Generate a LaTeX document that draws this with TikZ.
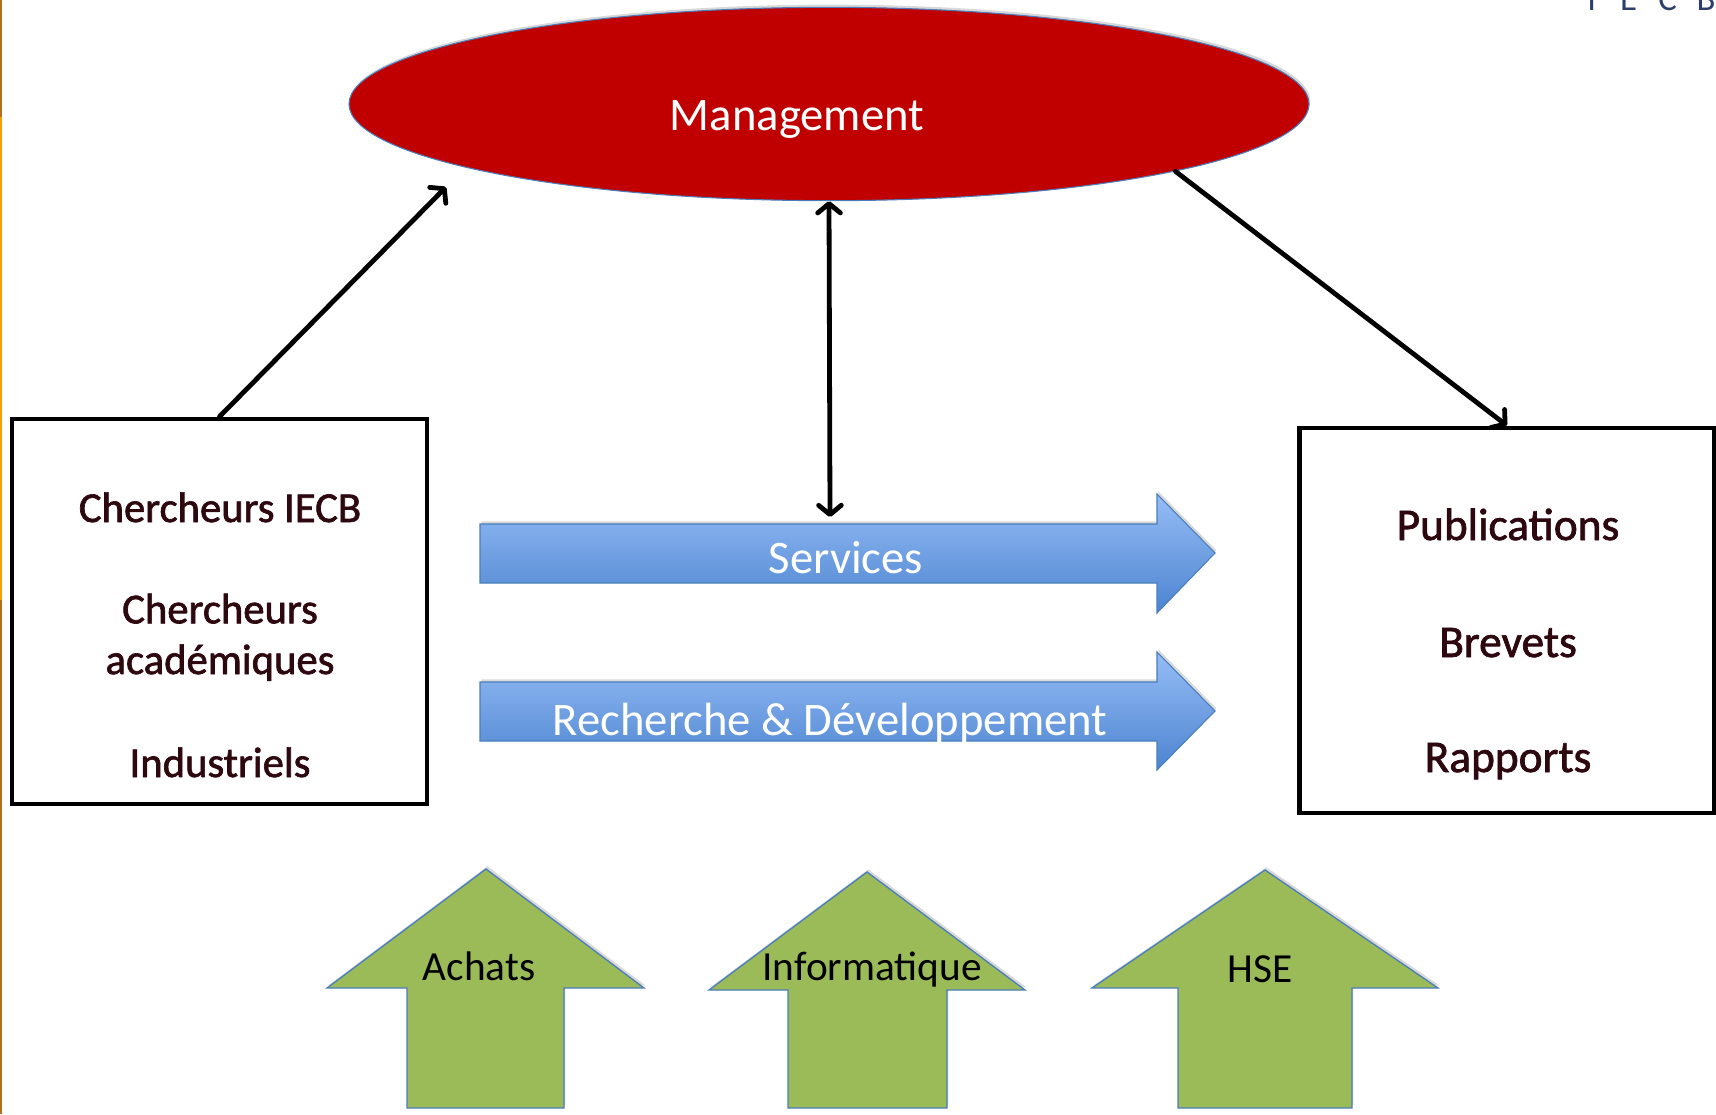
\documentclass[tikz,border=0pt]{standalone}
\usepackage{fontspec}
\setmainfont{Carlito}
\newfontfamily\inkfont[FakeBold=1.6]{Carlito}
\usepackage{color}
\usepackage{tikz}
\usetikzlibrary{shapes,arrows,arrows.meta}
\usetikzlibrary{shadows}

\definecolor{mgmtred}{RGB}{192,0,0}
\definecolor{lineblue}{RGB}{74,126,187}
\definecolor{flowtop}{RGB}{150,189,246}
\definecolor{flowbot}{RGB}{76,132,208}
\definecolor{suppgreen}{RGB}{155,187,89}
\definecolor{boxink}{RGB}{45,8,14}
\definecolor{logonavy}{RGB}{44,62,107}

\begin{document}
\begin{tikzpicture}[x=0.75pt,y=0.75pt,yscale=-1,xscale=1,
  softshadow/.style={drop shadow={opacity=0.3, shadow xshift=1pt, shadow yshift=2pt}},
  bigtxt/.style={text=white, inner sep=0.75pt, font=\fontsize{35}{42}\selectfont},
  boxtxt/.style={text=boxink, inner sep=0.75pt, align=center},
  flow/.style={top color=flowtop, bottom color=flowbot, draw=lineblue, line width=0.8pt, softshadow},
  support/.style={fill=suppgreen, draw=lineblue, line width=1pt, softshadow},
  frame/.style={draw, line width=3.3pt, inner sep=0pt, minimum width=311pt, minimum height=289pt},
  liaison/.style={draw=black, line width=3.6pt, line cap=round, >={Straight Barb[length=7pt,width=17pt,round]}}]
\useasboundingbox (0,0) rectangle (1716,1114);

%Straight Lines [id:slide edge]
\draw [color={rgb, 255:red, 180; green, 110; blue, 30 }, line width=1.5pt] (1,0) -- (1,1114) ;
\draw [color={rgb, 255:red, 240; green, 160; blue, 0 }, line width=1.5pt] (1,117) -- (1,600) ;

%Shape: Ellipse [id:management]
\node [ellipse, fill=mgmtred, draw=lineblue, line width=0.8pt, minimum width=720pt, minimum height=145pt, inner sep=0pt, softshadow] (mgmt) at (829,104) {};

%Flowchart: Process [id:chercheurs]
\node [frame] (chercheurs) at (219.5,611.5) {};
%Flowchart: Process [id:resultats]
\node [frame] (resultats) at (1507,620.5) {};

%Right Arrow [id:services]
\draw [flow] (480,524) -- (1157,524) -- (1157,494) -- (1215,553) -- (1157,613) -- (1157,583) -- (480,583) -- cycle ;
%Right Arrow [id:recherche]
\draw [flow] (480,682) -- (1157,682) -- (1157,652) -- (1215,711) -- (1157,770) -- (1157,741) -- (480,741) -- cycle ;

%Up Arrow [id:achats]
\draw [support] (486,869) -- (644,988) -- (564,988) -- (564,1108) -- (407,1108) -- (407,988) -- (327,988) -- cycle ;
%Up Arrow [id:informatique]
\draw [support] (867,872) -- (1025,990) -- (947,990) -- (947,1108) -- (788,1108) -- (788,990) -- (709,990) -- cycle ;
%Up Arrow [id:hse]
\draw [support] (1265,870) -- (1438,988) -- (1352,988) -- (1352,1108) -- (1178,1108) -- (1178,988) -- (1092,988) -- cycle ;

%Straight Lines [id:links]
\coordinate (mgmtin) at (446,187);
\coordinate (servin) at (830,517);
\draw [liaison,->] (chercheurs.north) -- (mgmtin) ;
\draw [liaison,<->] (mgmt.south) -- (servin) ;
\draw [liaison,->] (mgmt.-11) -- (resultats.north) ;

% Text Node
\draw (797,130) node [anchor=base][bigtxt] (mgmttxt) {Management};
% Text Node
\draw (846,573) node [anchor=base][bigtxt] (servtxt) {Services};
% Text Node
\draw (830,735) node [anchor=base][bigtxt] (rdtxt) {Recherche \& Développement};
% Text Node
\draw (220,522) node [anchor=base][boxtxt, font=\inkfont\fontsize{32}{38}\selectfont] (iecbtxt) {Chercheurs IECB};
% Text Node
\draw (220,674) node [anchor=base][boxtxt, font=\inkfont\fontsize{32}{38}\selectfont] (acadtxt) {Chercheurs\\académiques};
% Text Node
\draw (220,777) node [anchor=base][boxtxt, font=\inkfont\fontsize{32}{38}\selectfont] (indtxt) {Industriels};
% Text Node
\draw (1508,540) node [anchor=base][boxtxt, font=\inkfont\fontsize{34}{40}\selectfont] (pubtxt) {Publications};
% Text Node
\draw (1508,657) node [anchor=base][boxtxt, font=\inkfont\fontsize{34}{40}\selectfont] (brevtxt) {Brevets};
% Text Node
\draw (1508,772) node [anchor=base][boxtxt, font=\inkfont\fontsize{34}{40}\selectfont] (raptxt) {Rapports};
% Text Node
\draw (479,980) node [anchor=base][inner sep=0.75pt, font=\fontsize{31}{37}\selectfont] (achtxt) {Achats};
% Text Node
\draw (872,980) node [anchor=base][inner sep=0.75pt, font=\fontsize{31}{37}\selectfont] (infotxt) {Informatique};
% Text Node
\draw (1260,982) node [anchor=base][inner sep=0.75pt, font=\fontsize{31}{37}\selectfont] (hsetxt) {HSE};
% Text Node
\draw (1587,10) node [anchor=base west][inner sep=0pt, text=logonavy, font=\fontsize{26}{30}\selectfont] (logotxt) {I\hspace{18pt}E\hspace{16pt}C\hspace{15pt}B};

\end{tikzpicture}
\end{document}
